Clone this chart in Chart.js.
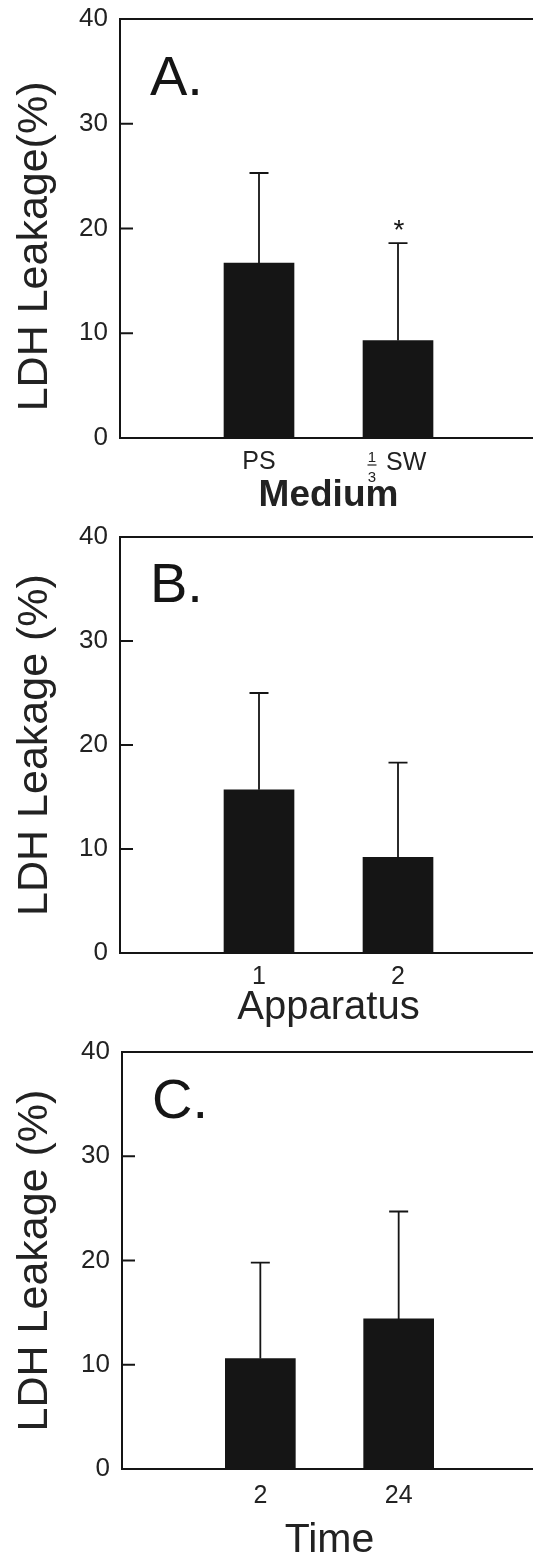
<!DOCTYPE html>
<html>
<head>
<meta charset="utf-8">
<title>LDH Leakage</title>
<script src="https://cdn.jsdelivr.net/npm/chart.js@4.4.0/dist/chart.umd.min.js"></script>
<style>
  html, body { margin: 0; padding: 0; background: #fff; overflow: hidden; }
  canvas { display: block; }
</style>
</head>
<body>
<canvas id="panelA" width="537" height="520"></canvas>
<canvas id="panelB" width="537" height="520"></canvas>
<canvas id="panelC" width="537" height="521"></canvas>
<script>
// ── Values ─────────────────────────────────────────────────────
const yTicks = [0, 10, 20, 30, 40];

const mediumLabels = ['PS', '1/3 SW'];
const mediumMeans  = [16.7, 9.3];
const mediumSD     = [8.6, 9.3];
const mediumMarks  = ['', '*'];

const apparatusLabels = ['1', '2'];
const apparatusMeans  = [15.7, 9.2];
const apparatusSD     = [9.3, 9.1];
const apparatusMarks  = ['', ''];

const timeLabels = ['2', '24'];
const timeMeans  = [10.6, 14.4];
const timeSD     = [9.2, 10.3];
const timeMarks  = ['', ''];

// ── Look ───────────────────────────────────────────────────────
const INK  = '#151515';
const TEXT = '#222';
const FONT = "'Liberation Sans', Arial, sans-serif";

Chart.defaults.font.family = FONT;
Chart.defaults.color       = TEXT;

// Each panel: its data plus a few layout numbers
const panels = [
  { id: 'panelA', letter: 'A.', labels: mediumLabels, means: mediumMeans, sd: mediumSD, marks: mediumMarks,
    xTitle: 'Medium', yTitle: 'LDH Leakage(%)   ',
    top: 19, yWidth: 120, xHeight: 82, xTickPad: 9,
    xTitleFont: { size: 37, weight: 'bold', lineHeight: 1 }, xTitlePad: 6, letterDrop: 76 },
  { id: 'panelB', letter: 'B.', labels: apparatusLabels, means: apparatusMeans, sd: apparatusSD, marks: apparatusMarks,
    xTitle: 'Apparatus', yTitle: 'LDH Leakage (%)',
    top: 17, yWidth: 120, xHeight: 87, xTickPad: 9,
    xTitleFont: { size: 40, lineHeight: 1 }, xTitlePad: 12, letterDrop: 65 },
  { id: 'panelC', letter: 'C.', labels: timeLabels, means: timeMeans, sd: timeSD, marks: timeMarks,
    xTitle: 'Time', yTitle: 'LDH Leakage (%)',
    top: 12, yWidth: 122, xHeight: 92, xTickPad: 12,
    xTitleFont: { size: 41, lineHeight: 1 }, xTitlePad: 0, letterDrop: 66 }
];

// ── Plugin: frame top, inward ticks, error bars, panel letter ──
const decorations = {
  id: 'decorations',
  afterDatasetsDraw(chart, args, opts) {
    const { ctx, chartArea: area, scales: { x, y } } = chart;
    const meta = chart.getDatasetMeta(0);
    const values = chart.data.datasets[0].data;

    ctx.save();
    ctx.strokeStyle = INK;

    // top frame line
    ctx.lineWidth = 2;
    ctx.beginPath();
    ctx.moveTo(area.left, area.top);
    ctx.lineTo(area.right, area.top);
    ctx.stroke();

    // inward tick marks on the y axis
    yTicks.slice(1, -1).forEach(v => {
      const py = y.getPixelForValue(v);
      ctx.beginPath();
      ctx.moveTo(area.left, py);
      ctx.lineTo(area.left + 13, py);
      ctx.stroke();
    });

    // error bars (upper only) + significance marks
    ctx.lineWidth = 1.8;
    meta.data.forEach((bar, i) => {
      const v = values[i];
      if (v == null) return;
      const yTop = y.getPixelForValue(v + opts.sd[i]);
      ctx.beginPath();
      ctx.moveTo(bar.x, bar.y);
      ctx.lineTo(bar.x, yTop);
      ctx.moveTo(bar.x - 9.5, yTop);
      ctx.lineTo(bar.x + 9.5, yTop);
      ctx.stroke();

      if (opts.marks[i]) {
        ctx.fillStyle = INK;
        ctx.font = `28px ${FONT}`;
        ctx.textAlign = 'center';
        ctx.textBaseline = 'alphabetic';
        ctx.fillText(opts.marks[i], bar.x + 1, yTop - 4);
      }
    });

    // panel letter
    ctx.fillStyle = INK;
    ctx.font = `56px ${FONT}`;
    ctx.textAlign = 'left';
    ctx.textBaseline = 'alphabetic';
    ctx.fillText(opts.letter, area.left + 30, area.top + opts.letterDrop);

    // stacked-fraction tick labels like "1/3 SW"
    x.ticks.forEach((t, i) => {
      const label = chart.data.labels[i];
      const m = /^(\d+)\/(\d+)\s*(.*)$/.exec(label);
      if (!m) return;
      const px = x.getPixelForTick(i);
      const top = x.top;
      ctx.fillStyle = TEXT;
      ctx.font = `15px ${FONT}`;
      ctx.textAlign = 'center';
      ctx.fillText(m[1], px - 26, top + 24);
      ctx.fillText(m[2], px - 26, top + 44);
      ctx.lineWidth = 1.2;
      ctx.strokeStyle = TEXT;
      ctx.beginPath();
      ctx.moveTo(px - 30.5, top + 27);
      ctx.lineTo(px - 21.5, top + 27);
      ctx.stroke();
      ctx.font = `25px ${FONT}`;
      ctx.textAlign = 'left';
      ctx.fillText(m[3], px - 12, top + 32);
    });

    ctx.restore();
  }
};

// ══════════════════════════════════════════════════════════════
// Build the three panels
// ══════════════════════════════════════════════════════════════
panels.forEach(p => {
  // blank categories either side put the bars at 1/3 and 2/3 of the axis
  const labels = ['', ...p.labels, ''];
  const data   = [null, ...p.means, null];

  new Chart(document.getElementById(p.id), {
    type: 'bar',
    data: {
      labels,
      datasets: [{
        data,
        backgroundColor: INK,
        borderWidth:     0,
        barThickness:    70
      }]
    },
    plugins: [decorations],
    options: {
      responsive: false,
      animation:  false,
      devicePixelRatio: 1,
      layout: { padding: { top: p.top, left: 0, right: 0, bottom: 0 } },
      plugins: {
        legend:  { display: false },
        tooltip: { enabled: false },
        decorations: {
          sd:     [0, ...p.sd, 0],
          marks:  ['', ...p.marks, ''],
          letter: p.letter,
          letterDrop: p.letterDrop
        }
      },
      scales: {
        x: {
          offset: false,
          grid:   { display: false, drawTicks: false },
          border: { display: true, color: INK, width: 2 },
          ticks: {
            padding:  p.xTickPad,
            color:    TEXT,
            font:     { size: 25 },
            maxRotation: 0,
            autoSkip: false,
            callback(val) {
              const l = this.getLabelForValue(val);
              return l.includes('/') ? '' : l;
            }
          },
          title: {
            display: true,
            text:    p.xTitle,
            color:   TEXT,
            font:    p.xTitleFont,
            padding: { top: 0, bottom: p.xTitlePad }
          },
          afterFit(scale) {
            scale.height = p.xHeight;
            scale.paddingLeft = 0;
            scale.paddingRight = 0;
          }
        },
        y: {
          min: yTicks[0],
          max: yTicks[yTicks.length - 1],
          grid:   { display: false, drawTicks: false },
          border: { display: true, color: INK, width: 2 },
          ticks: {
            stepSize: yTicks[1] - yTicks[0],
            padding:  12,
            color:    TEXT,
            font:     { size: 26 }
          },
          title: {
            display: true,
            text:    p.yTitle,
            color:   TEXT,
            font:    { size: 43 },
            padding: { top: 9, bottom: 0 }
          },
          afterFit(scale) {
            scale.width = p.yWidth;
            scale.paddingTop = 0;
            scale.paddingBottom = 0;
          }
        }
      }
    }
  });
});
</script>
</body>
</html>
